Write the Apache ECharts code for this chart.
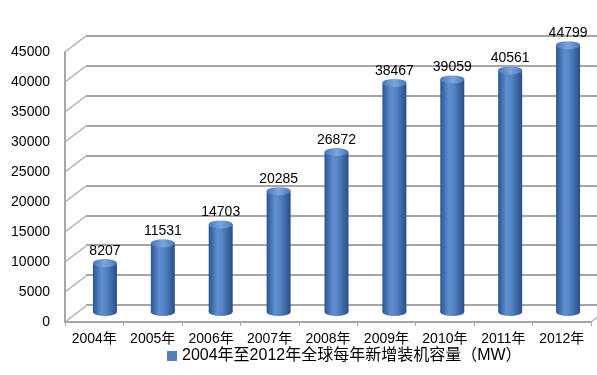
<!DOCTYPE html>
<html><head><meta charset="utf-8">
<script src="https://cdn.jsdelivr.net/npm/echarts@6/dist/echarts.min.js"></script>
<style>html,body{margin:0;padding:0;background:#fff}#c{width:597px;height:375px}</style>
</head><body><div id="c"></div>
<script>
const categories = ['2004年','2005年','2006年','2007年','2008年','2009年','2010年','2011年','2012年'];
const values = [8207, 11531, 14703, 20285, 26872, 38467, 39059, 40561, 44799];
const seriesName = '2004年至2012年全球每年新增装机容量（MW）';
const yTicks = [0,5000,10000,15000,20000,25000,30000,35000,40000,45000];

const FONT = '"Liberation Sans","Noto Sans CJK SC",sans-serif';
const DX = 21, DY = -16;
const chart = echarts.init(document.getElementById('c'), null, {renderer:'canvas'});
const barGrad = new echarts.graphic.LinearGradient(0,0,1,0,[
  {offset:0,color:'#2b5690'},{offset:0.35,color:'#5f8fd0'},{offset:0.55,color:'#5585c6'},{offset:1,color:'#284f86'}]);
const topGrad = new echarts.graphic.LinearGradient(0,0,1,0,[
  {offset:0,color:'#4a78b8'},{offset:0.5,color:'#7aa5de'},{offset:1,color:'#4a78b8'}]);

chart.setOption({
  animation:false,
  legend:{bottom:6,left:162,itemWidth:10,itemHeight:10,itemGap:4,
    data:[{name:seriesName,icon:'rect',itemStyle:{color:'#4f81bd'}}],
    textStyle:{fontFamily:FONT,fontSize:16,color:'#000'}},
  grid:[
    {left:65,right:6,top:52,bottom:53},   // front
    {left:76,width:526,top:44,height:268}, // bars (mid depth)
    {left:86,width:526,top:36,height:269}  // back wall
  ],
  xAxis:[
    {gridIndex:0,type:'category',data:categories,
      axisLine:{lineStyle:{color:'#a6a6a6',width:2}},
      axisTick:{show:true,interval:0,length:4,lineStyle:{color:'#a6a6a6',width:1}},
      axisLabel:{interval:0,fontFamily:FONT,fontSize:14,color:'#000',margin:10}},
    {gridIndex:1,type:'category',data:categories,show:false},
    {gridIndex:2,type:'category',data:categories,show:false}
  ],
  yAxis:[
    {gridIndex:0,type:'value',min:0,max:45000,interval:5000,
      axisLine:{show:true,lineStyle:{color:'#a6a6a6',width:2}},
      axisTick:{show:false},splitLine:{show:false},
      axisLabel:{fontFamily:FONT,fontSize:14,color:'#000',margin:15,formatter:v=>String(v)}},
    {gridIndex:1,type:'value',min:0,max:45000,interval:5000,show:false,splitLine:{show:false}},
    {gridIndex:2,type:'value',min:0,max:45000,interval:5000,
      axisLine:{show:false},axisTick:{show:false},axisLabel:{show:false},
      splitLine:{show:true,lineStyle:{color:'#a6a6a6',width:2}}}
  ],
  series:[
    {type:'custom',xAxisIndex:0,yAxisIndex:0,silent:true,z:1,
      data:yTicks.map(v=>[0,v]),
      renderItem:function(params,api){
        const cs = params.coordSys;
        const y = api.coord([0,api.value(1)])[1];
        const lines = [{type:'line',shape:{x1:cs.x,y1:y,x2:cs.x+DX,y2:y+DY},
          style:{stroke:'#b0b0b0',lineWidth:1.5}}];
        if (api.value(1)===0) {
          lines.push({type:'line',shape:{x1:cs.x+cs.width,y1:y,x2:cs.x+cs.width+DX,y2:y+DY},
            style:{stroke:'#b0b0b0',lineWidth:1.5}});
        }
        return {type:'group',children:lines};
      }},
    {name:seriesName,type:'bar',xAxisIndex:1,yAxisIndex:1,data:values,barWidth:24,z:3,
      itemStyle:{color:barGrad}},
    {type:'pictorialBar',xAxisIndex:1,yAxisIndex:1,data:values,symbol:'circle',
      symbolSize:[24,8],symbolPosition:'start',symbolOffset:[0,'50%'],z:2,
      itemStyle:{color:barGrad}},
    {type:'pictorialBar',xAxisIndex:1,yAxisIndex:1,data:values,symbol:'circle',
      symbolSize:[24,8],symbolPosition:'end',symbolOffset:[0,'-50%'],z:4,
      itemStyle:{color:topGrad},
      label:{show:true,position:'top',distance:1,fontFamily:FONT,fontSize:14,color:'#000'}}
  ]
});
</script></body></html>
